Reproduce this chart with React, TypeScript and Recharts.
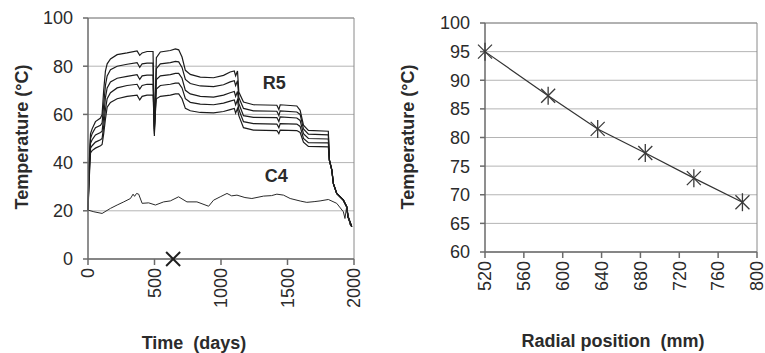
import React from 'react';
import { LineChart, Line, XAxis, YAxis, CartesianGrid, ReferenceLine, ReferenceDot } from 'recharts';

// left panel: rotor temperatures R1..R5 (top to bottom) against time
const days = [0, 8, 19, 31, 56, 94, 106, 118, 131, 144, 169, 219, 294, 369, 389, 407, 444, 489, 499, 514, 544, 619, 657, 682, 707, 732, 769, 844, 944, 1019, 1069, 1100, 1110, 1124, 1134, 1169, 1244, 1420, 1435, 1445, 1570, 1595, 1620, 1657, 1807, 1815, 1833, 1845, 1870, 1920, 1945, 1955, 1983];
const r1 = [20, 40, 52, 54, 57, 58.5, 60, 70, 78, 81, 83, 84.8, 85.5, 86.3, 84.5, 85.5, 86.1, 86.1, 51, 83.5, 85.9, 86.5, 87.2, 86.8, 83.8, 78.3, 76.6, 75.5, 75.2, 76.2, 77.6, 78, 76, 78, 69.3, 65.1, 64, 63.8, 62, 64, 63.5, 61.7, 55.5, 53.4, 53, 41, 37, 31.3, 27.2, 24.4, 21.7, 17.5, 13.4];
const r2 = [20, 38, 50, 52, 54.5, 55.5, 56.5, 64, 72, 76, 78.5, 80, 80.8, 81.5, 79.5, 81, 81.3, 81.3, 52, 79, 81, 81.5, 82, 81.8, 79.5, 74.5, 72.8, 71.8, 71.5, 72.3, 73.5, 74, 72, 74, 67, 62.5, 61.5, 61.3, 59.5, 61.5, 61, 60, 54, 51.8, 51.5, 41, 37, 31.3, 27.2, 24.4, 21.7, 17.5, 13.4];
const r3 = [20, 36, 48, 49.5, 51.5, 52.5, 53, 59, 67, 71, 73.5, 75, 75.8, 76.5, 74.5, 76, 76.3, 76.3, 53, 74.5, 76, 76.5, 77, 77, 75, 70, 68.5, 67.5, 67.2, 68, 69, 69.5, 67.5, 69.5, 64.5, 59.5, 58.8, 58.7, 57, 59, 58.5, 57.5, 52, 50, 49.8, 41, 37, 31.3, 27.2, 24.4, 21.7, 17.5, 13.4];
const r4 = [20, 34, 46, 47, 48.5, 49.5, 50, 55, 62, 66.5, 69, 71, 72, 72.5, 70.5, 72, 72.5, 72.5, 54, 70.5, 72, 72.5, 73, 73, 71, 66.5, 65, 64.3, 64, 64.7, 65.5, 66, 64, 66, 62, 57, 56.2, 56, 54.5, 56.2, 56, 55, 50, 48.3, 48.2, 41, 37, 31.3, 27.2, 24.4, 21.7, 17.5, 13.4];
const r5 = [20, 32, 44, 45, 46, 47, 47.5, 52, 58, 63, 65, 66.5, 67.5, 68, 66, 67.5, 68, 68, 55, 66.5, 67.5, 68, 68.5, 68.5, 66.5, 62.5, 61.5, 60.8, 60.6, 61.2, 62, 62.5, 60.5, 62.5, 59.5, 54.5, 53.5, 53.3, 52, 53.5, 53.3, 52.5, 48.5, 46.7, 46.5, 41, 37, 31.3, 27.2, 24.4, 21.7, 17.5, 13.4];

const c4Days = [0, 44, 106, 169, 219, 269, 319, 339, 350, 365, 381, 407, 456, 507, 569, 619, 681, 744, 819, 907, 944, 994, 1045, 1080, 1120, 1180, 1232, 1320, 1380, 1420, 1470, 1520, 1600, 1645, 1700, 1745, 1807, 1870, 1920, 1932, 1945, 1970];
const c4 = [20.3, 19.6, 18.9, 21, 22.4, 23.7, 25.1, 26.9, 26, 27.2, 26.9, 23.1, 23.3, 22.4, 23.7, 24.1, 25.8, 23.7, 23.7, 21.9, 24.4, 25.8, 27.2, 26.2, 26.5, 25.5, 25.1, 26.1, 26.3, 26.9, 26.5, 25.1, 24, 23.5, 23.8, 24.1, 24.7, 23.1, 19.6, 16.8, 21.7, 14.1];

const markDay = 640;
const markTemp = 0;

const timeTicks = [0, 500, 1000, 1500, 2000];
const tempTicks = [0, 20, 40, 60, 80, 100];

// right panel: temperature against radial position
const radial = [520, 585, 636, 685, 735, 785];
const radialTemp = [95, 87.3, 81.5, 77.3, 72.9, 68.7];
const radialTicks = [520, 560, 600, 640, 680, 720, 760, 800];
const radialTempTicks = [60, 65, 70, 75, 80, 85, 90, 95, 100];

// one table for the time plot; series without a sample on a given day stay empty and are bridged
const byDay = new Map<number, any>();
const rowFor = (d: number) => {
    if (!byDay.has(d)) byDay.set(d, { day: d });
    return byDay.get(d);
};
days.forEach((d, i) => Object.assign(rowFor(d), { r1: r1[i], r2: r2[i], r3: r3[i], r4: r4[i], r5: r5[i] }));
c4Days.forEach((d, i) => { rowFor(d).c4 = c4[i]; });
rowFor(markDay).mark = markTemp;
const timeRows = Array.from(byDay.values()).sort((a, b) => a.day - b.day);

const radialRows = radial.map((p, i) => ({ pos: p, t: radialTemp[i] }));

const FONT = '"Liberation Sans", Arial, sans-serif';
const TXT = '#2b2b2b';
const GRID = '#b4b4b4';
const AXIS = '#6a6a6a';
const BORDER = '#8a8a8a';

// vertical tick labels, reading upwards, ending just below the axis
const renderRotTick = (props: any) => {
    const { x, y, payload, index } = props;
    return (
        <g key={`t-${index}`} transform={`translate(${x},${y}) rotate(-90)`}>
            <text x={0} y={0} textAnchor="end" dy="0.35em" fill={TXT} fontSize={18} fontFamily={FONT}>
                {String(payload.value)}
            </text>
        </g>
    );
};
const flatTick = { fill: TXT, fontSize: 18, fontFamily: FONT };

const renderCross = (props: any) => {
    const { cx, cy, index, value } = props;
    if (value == null || cx == null || cy == null) return <g key={`x-${index}`} />;
    const s = 7;
    return (
        <g key={`x-${index}`} stroke="#1e1e1e" strokeWidth={2}>
            <line x1={cx - s} y1={cy - s} x2={cx + s} y2={cy + s} />
            <line x1={cx - s} y1={cy + s} x2={cx + s} y2={cy - s} />
        </g>
    );
};

const renderStar = (props: any) => {
    const { cx, cy, index } = props;
    const s = 7;
    return (
        <g key={`s-${index}`} stroke="#3a3a3a" strokeWidth={1.3}>
            <line x1={cx - s} y1={cy - s} x2={cx + s} y2={cy + s} />
            <line x1={cx - s} y1={cy + s} x2={cx + s} y2={cy - s} />
            <line x1={cx} y1={cy - 9} x2={cx} y2={cy + 9} />
        </g>
    );
};

const title: React.CSSProperties = {
    position: 'absolute',
    fontFamily: FONT,
    fontWeight: 'bold',
    fontSize: 18,
    color: TXT,
    whiteSpace: 'pre',
};

const rKeys = ['r1', 'r2', 'r3', 'r4', 'r5'];

export default function App() {
    return (
        <div style={{ position: 'absolute', left: 0, top: 0, width: 765, height: 353, background: '#fff', fontFamily: FONT }}>
            <div style={{ position: 'absolute', left: 0, top: 0 }}>
                <LineChart width={380} height={353} data={timeRows} margin={{ top: 18, right: 26, bottom: 0, left: 0 }}>
                    <CartesianGrid horizontal vertical={false} stroke={GRID} />
                    <XAxis
                        type="number"
                        dataKey="day"
                        domain={[0, 2000]}
                        ticks={timeTicks}
                        height={94}
                        stroke={AXIS}
                        strokeWidth={1.5}
                        tickSize={6}
                        tickMargin={3}
                        tick={renderRotTick}
                        interval={0}
                    />
                    <YAxis
                        type="number"
                        domain={[0, 100]}
                        ticks={tempTicks}
                        width={88}
                        stroke={AXIS}
                        strokeWidth={1.5}
                        tickSize={5}
                        tickMargin={10}
                        tick={flatTick}
                        interval={0}
                    />
                    <ReferenceLine y={100} stroke={BORDER} />
                    <ReferenceLine x={2000} stroke={BORDER} />
                    {rKeys.map((k) => (
                        <Line
                            key={k}
                            dataKey={k}
                            type="linear"
                            stroke="#1c1c1c"
                            strokeWidth={1.2}
                            dot={false}
                            connectNulls
                            isAnimationActive={false}
                        />
                    ))}
                    <Line dataKey="c4" type="linear" stroke="#2a2a2a" strokeWidth={1} dot={false} connectNulls isAnimationActive={false} />
                    <Line dataKey="mark" stroke="none" dot={renderCross} isAnimationActive={false} />
                    <ReferenceDot x={1400} y={73.3} r={0} fill="none" stroke="none"
                        label={{ value: 'R5', position: 'center', fontSize: 18, fontWeight: 'bold', fill: TXT, fontFamily: FONT }} />
                    <ReferenceDot x={1415} y={34.4} r={0} fill="none" stroke="none"
                        label={{ value: 'C4', position: 'center', fontSize: 18, fontWeight: 'bold', fill: TXT, fontFamily: FONT }} />
                </LineChart>
            </div>
            <div style={{ position: 'absolute', left: 380, top: 0 }}>
                <LineChart width={385} height={353} data={radialRows} margin={{ top: 23, right: 8, bottom: 0, left: 0 }}>
                    <CartesianGrid horizontal vertical={false} stroke={GRID} />
                    <XAxis
                        type="number"
                        dataKey="pos"
                        domain={[520, 800]}
                        ticks={radialTicks}
                        height={101}
                        stroke={AXIS}
                        strokeWidth={1.5}
                        tickSize={6}
                        tickMargin={3}
                        tick={renderRotTick}
                        interval={0}
                    />
                    <YAxis
                        type="number"
                        domain={[60, 100]}
                        ticks={radialTempTicks}
                        width={105}
                        stroke={AXIS}
                        strokeWidth={1.5}
                        tickSize={5}
                        tickMargin={10}
                        tick={flatTick}
                        interval={0}
                    />
                    <ReferenceLine y={100} stroke={BORDER} />
                    <ReferenceLine x={800} stroke={BORDER} />
                    <Line dataKey="t" type="linear" stroke="#333" strokeWidth={1.2} dot={renderStar} isAnimationActive={false} />
                </LineChart>
            </div>

            <div style={{ ...title, left: 22, top: 137, transform: 'translate(-50%, -50%) rotate(-90deg)' }}>Temperature (°C)</div>
            <div style={{ ...title, left: 194, top: 343, transform: 'translate(-50%, -50%)' }}>Time  (days)</div>
            <div style={{ ...title, left: 408, top: 137, transform: 'translate(-50%, -50%) rotate(-90deg)' }}>Temperature (°C)</div>
            <div style={{ ...title, left: 613, top: 341, transform: 'translate(-50%, -50%)' }}>Radial position  (mm)</div>
        </div>
    );
}
